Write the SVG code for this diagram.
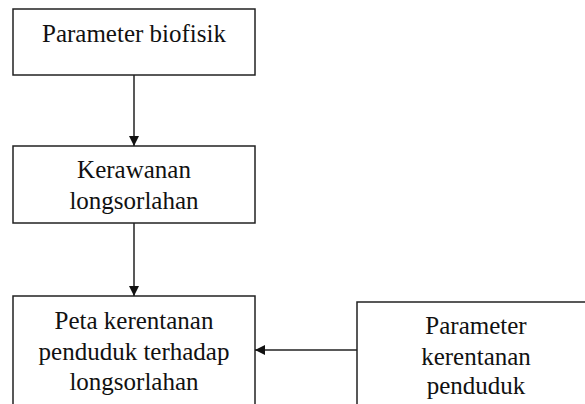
<svg xmlns="http://www.w3.org/2000/svg" width="585" height="404" viewBox="0 0 585 404">
<style>
.box{fill:#fff;stroke:#222;stroke-width:1.5}
.t{font-family:"Liberation Serif","Times New Roman",serif;font-size:25px;fill:#111;text-anchor:middle}
.c{stroke:#222;stroke-width:1.5;fill:none}
</style>
<defs>
<marker id="ah" viewBox="0 0 10 10" refX="10" refY="5" markerWidth="10" markerHeight="10" markerUnits="userSpaceOnUse" orient="auto">
<path d="M0,0 L10,5 L0,10 Z" fill="#111"/>
</marker>
</defs>
<rect width="585" height="404" fill="#fff"/>
<g id="n1">
<rect class="box" x="13" y="9" width="242" height="66"/>
<text class="t" x="134" y="42">Parameter biofisik</text>
</g>
<g id="n2">
<rect class="box" x="13" y="146" width="242" height="77"/>
<text class="t" x="134" y="178">Kerawanan</text>
<text class="t" x="134" y="209">longsorlahan</text>
</g>
<g id="n3">
<rect class="box" x="13" y="296" width="242" height="120"/>
<text class="t" x="134" y="329">Peta kerentanan</text>
<text class="t" x="134" y="360">penduduk terhadap</text>
<text class="t" x="134" y="390">longsorlahan</text>
</g>
<g id="n4">
<rect class="box" x="357" y="302" width="240" height="120"/>
<text class="t" x="476" y="334">Parameter</text>
<text class="t" x="476" y="365">kerentanan</text>
<text class="t" x="476" y="394">penduduk</text>
</g>
<g id="connectors">
<line class="c" x1="134" y1="75" x2="134" y2="146" marker-end="url(#ah)"/>
<line class="c" x1="134" y1="223" x2="134" y2="296" marker-end="url(#ah)"/>
<line class="c" x1="357" y1="350" x2="255" y2="350" marker-end="url(#ah)"/>
</g>
</svg>
